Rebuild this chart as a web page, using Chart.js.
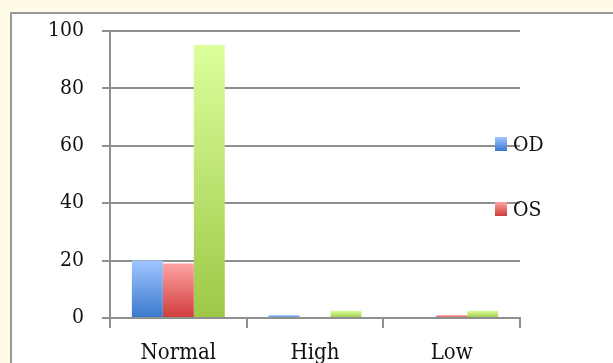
<!DOCTYPE html>
<html lang="en">
<head>
<meta charset="utf-8" />
<title>OD / OS distribution</title>
<script src="https://cdn.jsdelivr.net/npm/chart.js@4.4.1/dist/chart.umd.min.js"></script>
<style>
  html,body{margin:0;padding:0;width:613px;height:363px;overflow:hidden;background:#fffbe7;}
  .box{position:absolute;left:10px;top:12px;width:640px;height:420px;border:2px solid #999;background:#fff;box-sizing:border-box;}
  #wrap{position:absolute;left:0;top:0;width:613px;height:400px;}
  .leg{position:absolute;left:495px;height:16px;font:21px "DejaVu Serif Condensed","DejaVu Serif",serif;color:#111;}
  .leg i{position:absolute;left:0;top:0;width:12px;height:14px;}
  .leg span{position:absolute;left:18px;top:-7px;line-height:28px;white-space:nowrap;}
</style>
</head>
<body>
<div class="box"></div>
<div id="wrap"><canvas id="chart" width="613" height="400"></canvas></div>
<div id="legend"></div>
<script>
// values
const categories = ['Normal', 'High', 'Low'];
const odValues = [20, 1, 0];
const osValues = [19, 0, 1];
const totalValues = [95, 2.5, 2.5];
const yTicks = [0, 20, 40, 60, 80, 100];
const legendLabels = ['OD', 'OS'];

// light at top, dark at bottom
const SHADES = {
  OD: ['#a0c6ff', '#3a78cc'],
  OS: ['#ffa3a3', '#cf3b3b'],
  Total: ['#dcff9c', '#9cc846'],
};

const FONT = '"DejaVu Serif Condensed","DejaVu Serif",serif';
const GRID = '#8f8f8f';

function gradientFill(name) {
  return (ctx) => {
    const chart = ctx.chart;
    const [light, dark] = SHADES[name];
    if (!chart.chartArea || ctx.raw === undefined) return light;
    const y = chart.scales.y;
    const top = y.getPixelForValue(ctx.raw);
    const bottom = y.getPixelForValue(0);
    if (bottom - top < 1) return light;
    const g = chart.ctx.createLinearGradient(0, top, 0, bottom);
    g.addColorStop(0, light);
    g.addColorStop(1, dark);
    return g;
  };
}

function series(label, data) {
  return { label, data, backgroundColor: gradientFill(label), borderWidth: 0, barPercentage: 1, categoryPercentage: 0.68 };
}

new Chart(document.getElementById('chart'), {
  type: 'bar',
  data: {
    labels: categories,
    datasets: [series('OD', odValues), series('OS', osValues), series('Total', totalValues)],
  },
  options: {
    responsive: false,
    animation: false,
    layout: { padding: { left: 0, top: 29, right: 93, bottom: 22 } },
    plugins: { legend: { display: false }, tooltip: { enabled: false } },
    scales: {
      x: {
        grid: { offset: true, drawOnChartArea: false, drawTicks: true, tickLength: 10, color: GRID, lineWidth: 2 },
        border: { color: GRID, width: 2 },
        ticks: { color: '#111', font: { family: FONT, size: 22 }, padding: 12 },
        afterFit: (s) => { s.height = 60; },
      },
      y: {
        min: 0,
        max: 100,
        afterBuildTicks: (s) => { s.ticks = yTicks.map((v) => ({ value: v })); },
        grid: { color: GRID, lineWidth: 2, tickLength: 8 },
        border: { color: GRID, width: 2 },
        ticks: { color: '#111', font: { family: FONT, size: 21 }, padding: 18 },
        afterFit: (s) => { s.width = 110; },
      },
    },
  },
});

// legend sits over the right end of the grid, like the original
const legendTops = [137, 202];
document.getElementById('legend').innerHTML = legendLabels
  .map((name, i) => `<div class="leg" style="top:${legendTops[i]}px"><i style="background:linear-gradient(${SHADES[name][0]},${SHADES[name][1]})"></i><span>${name}</span></div>`)
  .join('');
</script>
</body>
</html>
